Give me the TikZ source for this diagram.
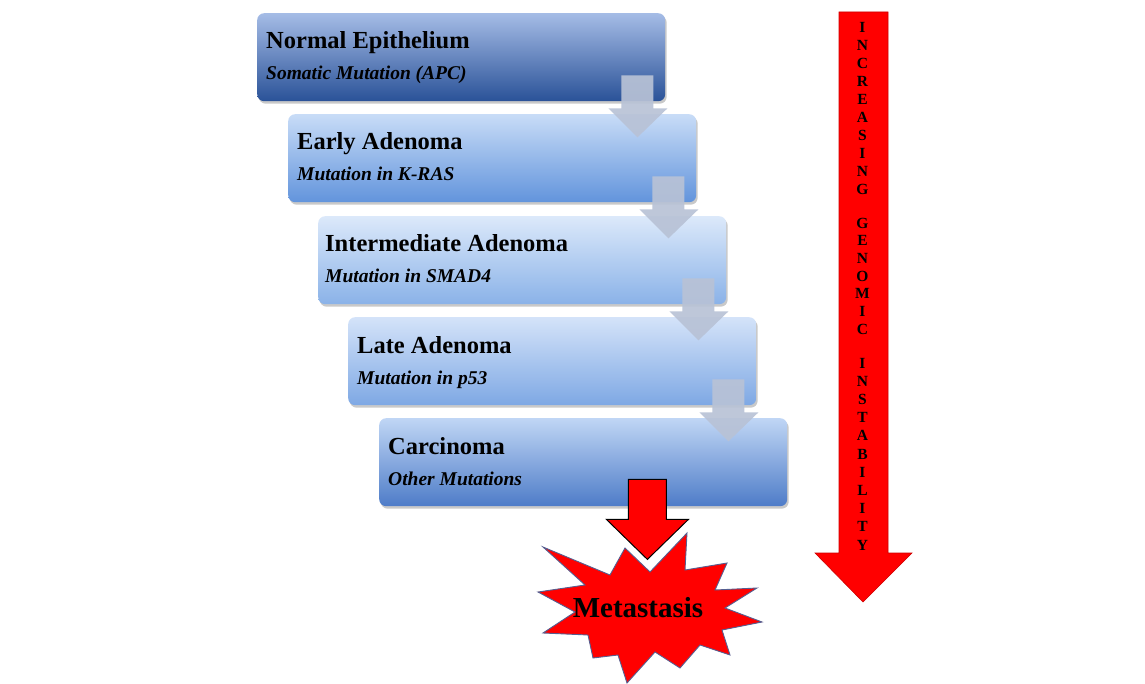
\documentclass[tikz,border=0pt]{standalone}
\usepackage{fontspec}
\setmainfont{Liberation Serif}
\usetikzlibrary{shadows}
\definecolor{bat}{RGB}{165,188,230}
\definecolor{bab}{RGB}{42,82,152}
\definecolor{bbt}{RGB}{200,220,247}
\definecolor{bbb}{RGB}{98,148,220}
\definecolor{bct}{RGB}{220,233,250}
\definecolor{bcb}{RGB}{138,178,232}
\definecolor{bdt}{RGB}{212,227,249}
\definecolor{bdb}{RGB}{126,168,228}
\definecolor{bet}{RGB}{192,214,245}
\definecolor{beb}{RGB}{78,124,200}
\definecolor{arrowgray}{RGB}{184,194,214}
\definecolor{hotred}{RGB}{255,0,0}
\definecolor{staredge}{RGB}{85,95,145}
\begin{document}
\begin{tikzpicture}[x=1pt,y=-1pt,
  stage/.style={rounded corners=7pt, minimum width=408pt, minimum height=88pt,
    anchor=north west, inner sep=0pt,
    drop shadow={shadow xshift=1.5pt, shadow yshift=-2.5pt, opacity=0.3, fill=black!70}},
  ttl/.style={anchor=base west, inner sep=0pt, font=\fontsize{24.5}{28}\selectfont\bfseries},
  sub/.style={anchor=base west, inner sep=0pt, font=\fontsize{19.5}{23}\selectfont\bfseries\itshape},
  flow/.style={fill=arrowgray, fill opacity=0.92, draw=none},
  vl/.style={inner sep=0pt, anchor=center, font=\fontsize{15.5}{17}\selectfont\bfseries}]
\useasboundingbox (0,0) rectangle (1145,684);

% stage boxes
\node[stage, top color=bat, bottom color=bab] (b1) at (257,13) {};
\node[stage, top color=bbt, bottom color=bbb] (b2) at (288,114) {};
\node[stage, top color=bct, bottom color=bcb] (b3) at (318,216) {};
\node[stage, top color=bdt, bottom color=bdb] (b4) at (348,317) {};
\node[stage, top color=bet, bottom color=beb] (b5) at (379,418) {};

% texts
\node[ttl] (t1) at (266,49) {Normal Epithelium};
\node[sub] (s1) at (266,80) {Somatic Mutation (APC)};
\node[ttl] (t2) at (297,150) {Early Adenoma};
\node[sub] (s2) at (297,181) {Mutation in K-RAS};
\node[ttl] (t3) at (325,252) {Intermediate Adenoma};
\node[sub] (s3) at (325,283) {Mutation in SMAD4};
\node[ttl] (t4) at (357,353) {Late Adenoma};
\node[sub] (s4) at (357,384) {Mutation in p53};
\node[ttl] (t5) at (388,454) {Carcinoma};
\node[sub] (s5) at (388,485) {Other Mutations};

% gray block arrows between stages
\foreach \b in {b1,b2,b3,b4}{
  \begin{scope}[shift={(\b.south east)}]
    \path[flow] (-44,-26) -- (-12,-26) -- (-12,7) -- (2,7) -- (-28,36) -- (-57,7) -- (-44,7) -- cycle;
  \end{scope}
}

% starburst
\path[fill=hotred, draw=staredge, line width=0.9pt, line join=miter]
  (543,547) -- (610,575) -- (625,548) -- (650,572) -- (687,533) -- (685,570)
  -- (727,563) -- (715,590) -- (757,588) -- (725,608) -- (762,622) -- (722,630)
  -- (730,655) -- (700,645) -- (680,668) -- (655,652) -- (627,683) -- (618,655)
  -- (593,658) -- (588,635) -- (543,633) -- (575,612) -- (538,592) -- (585,585) -- cycle;
\node[anchor=base, inner sep=0pt, font=\fontsize{29}{32}\selectfont\bfseries] (meta) at (638,617) {Metastasis};

% red arrow from carcinoma to metastasis
\begin{scope}[shift={(b5.south east)}]
  \path[fill=hotred, draw=black, line width=1pt, line join=miter]
    (-159,-27) -- (-121,-27) -- (-121,13) -- (-99,13) -- (-140,53) -- (-181,13) -- (-159,13) -- cycle;
\end{scope}

% increasing genomic instability arrow
\path[fill=hotred, draw={rgb,255:red,205;green,0;blue,0}, line width=0.6pt]
  (839,12) -- (888,12) -- (888,553) -- (912,553) -- (863,602) -- (815,553) -- (839,553) -- cycle;
\foreach \l/\yy [count=\i] in {I/27,N/45.1,C/63.2,R/81.3,E/99.4,A/117.5,S/135.6,I/153.7,N/171.8,G/189.9,
  G/223,E/240.7,N/258.4,O/276.1,M/293.8,I/311.5,C/329.2,
  I/363,N/381.2,S/399.4,T/417.6,A/435.8,B/454,I/472.2,L/490.4,I/508.6,T/526.8,Y/545}{
  \node[vl] (v\i) at (862.5,\yy) {\l};
}
\end{tikzpicture}
\end{document}
